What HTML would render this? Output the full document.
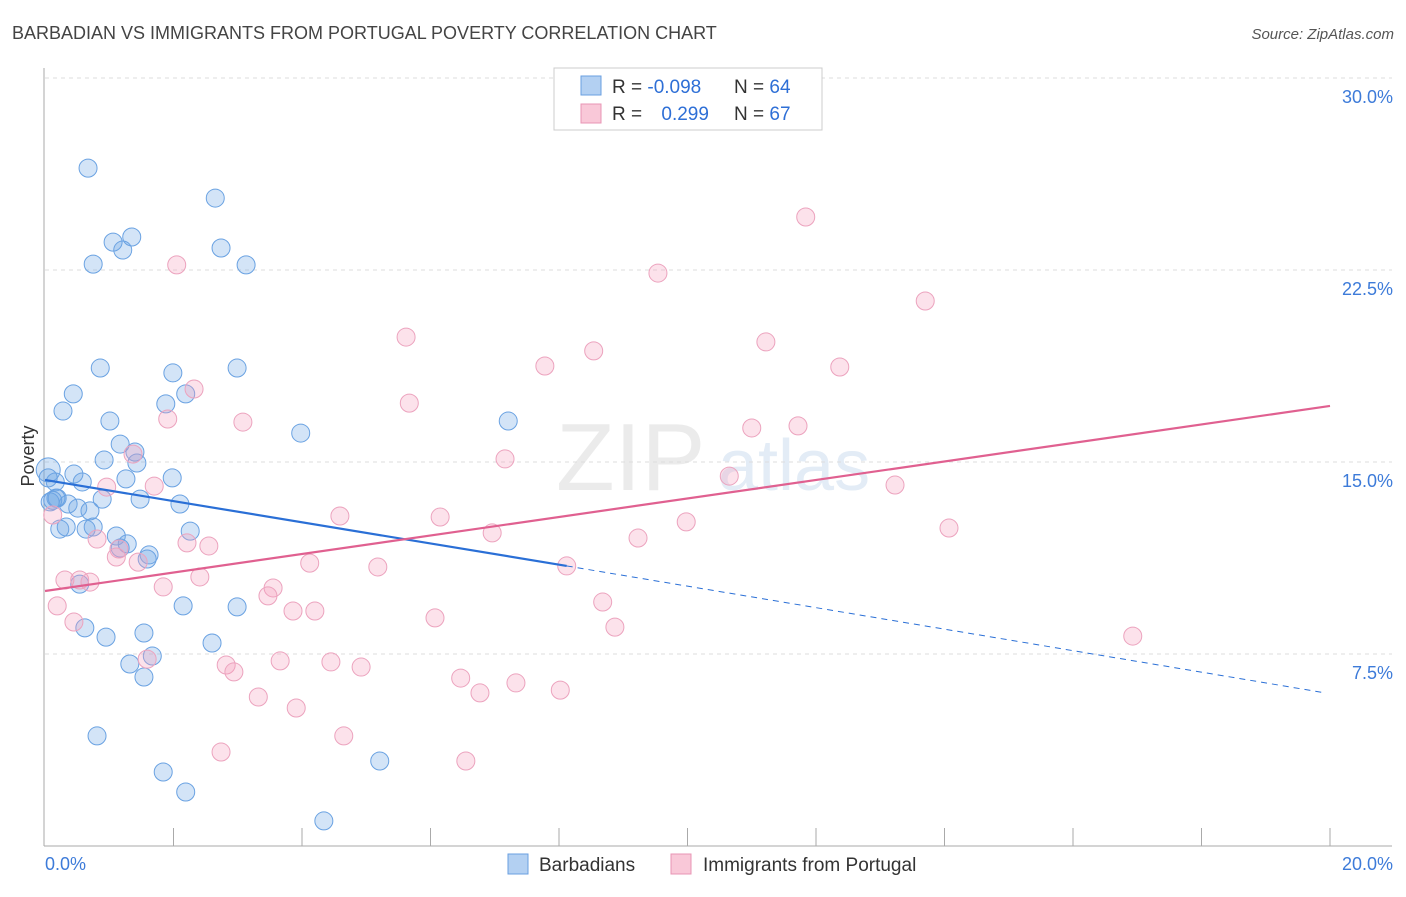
<!DOCTYPE html>
<html><head><meta charset="utf-8"><style>
body{margin:0;background:#fff;font-family:"Liberation Sans",sans-serif;}
svg text{font-family:"Liberation Sans",sans-serif;}
</style></head><body>
<svg id="chart" width="1406" height="892">
<text x="12" y="39" font-size="18" fill="#444">BARBADIAN VS IMMIGRANTS FROM PORTUGAL POVERTY CORRELATION CHART</text>
<text x="1394" y="39" font-size="15" fill="#555" text-anchor="end" font-style="italic">Source: ZipAtlas.com</text>
<text x="556" y="490" font-size="96" fill="#ebebeb" font-family="Liberation Serif">ZIP</text>
<text x="718" y="490" font-size="72" fill="#e3ecf6">atlas</text>
<g id="grid"></g>
<g id="axes"></g>
<g id="pts"></g>
<g id="lines"></g>
<text x="34" y="456" font-size="18" fill="#333" text-anchor="middle" transform="rotate(-90 34 456)">Poverty</text>
<g>
<rect x="554" y="68" width="268" height="62" fill="#fff" stroke="#ccc"/>
<rect x="581" y="76" width="20" height="19" fill="#b3d0f2" stroke="#6a9fe0"/>
<rect x="581" y="104" width="20" height="19" fill="#f9c8d8" stroke="#e895b4"/>
<text x="612" y="93" font-size="19" fill="#333">R = <tspan fill="#2e6fd6">-0.098</tspan></text>
<text x="734" y="93" font-size="19" fill="#333">N = <tspan fill="#2e6fd6">64</tspan></text>
<text x="612" y="120" font-size="19" fill="#333">R = <tspan fill="#2e6fd6" dx="14">0.299</tspan></text>
<text x="734" y="120" font-size="19" fill="#333">N = <tspan fill="#2e6fd6">67</tspan></text>
</g>
<g>
<rect x="508" y="854" width="20" height="20" fill="#b3d0f2" stroke="#6a9fe0"/>
<text x="539" y="871" font-size="19" fill="#333">Barbadians</text>
<rect x="671" y="854" width="20" height="20" fill="#f9c8d8" stroke="#e895b4"/>
<text x="703" y="871" font-size="19" fill="#333">Immigrants from Portugal</text>
</g>
</svg>
<script>
const yTicks=[7.5,15,22.5,30];
const yTickLabels=["7.5%","15.0%","22.5%","30.0%"];
const xTickVals=[0,2,4,6,8,10,12,14,16,18,20];
const blueX=[0.67,2.65,1.06,1.35,1.21,0.75,2.74,3.13,0.86,1.99,2.99,0.44,2.19,1.88,0.28,1.01,7.21,3.98,1.17,1.40,0.92,1.43,0.45,1.98,1.26,0.05,0.16,0.58,0.89,1.48,2.10,0.19,0.36,0.51,0.70,0.23,0.33,0.75,0.64,2.26,1.11,1.28,1.17,1.62,1.59,0.54,2.15,2.99,0.62,0.95,1.54,2.60,1.67,1.32,1.54,0.81,1.84,2.19,4.34,5.21,0.05,0.08,0.17,0.12];
const blueY=[26.48,25.31,23.59,23.79,23.28,22.73,23.36,22.70,18.67,18.48,18.67,17.66,17.66,17.27,16.99,16.60,16.60,16.13,15.70,15.39,15.08,14.96,14.53,14.38,14.34,14.69,14.22,14.22,13.55,13.55,13.36,13.59,13.36,13.20,13.09,12.38,12.46,12.46,12.38,12.30,12.11,11.80,11.64,11.37,11.21,10.23,9.38,9.34,8.52,8.16,8.32,7.93,7.42,7.11,6.60,4.30,2.89,2.11,0.98,3.32,14.38,13.44,13.59,13.5];
const pinkX=[11.84,2.05,9.54,13.70,5.62,7.78,8.54,11.22,12.37,2.32,5.67,1.91,3.08,11.00,11.72,7.16,1.37,10.65,13.23,1.70,0.96,4.59,6.15,9.98,14.07,6.96,9.23,0.81,2.21,2.55,1.15,1.11,1.45,4.12,5.18,8.12,0.31,0.54,0.70,1.84,2.41,3.55,3.47,3.86,4.20,8.68,6.07,0.19,0.45,8.87,16.93,1.59,2.82,2.94,3.66,4.45,4.92,6.47,7.33,8.02,6.77,3.32,3.91,4.65,2.74,6.55,0.12];
const pinkY=[24.57,22.70,22.38,21.29,19.88,18.75,19.34,19.69,18.71,17.85,17.30,16.68,16.56,16.33,16.41,15.12,15.31,14.45,14.10,14.06,14.02,12.89,12.85,12.66,12.42,12.23,12.03,11.99,11.84,11.72,11.60,11.29,11.09,11.05,10.90,10.94,10.39,10.39,10.31,10.12,10.51,10.08,9.77,9.18,9.18,9.53,8.91,9.38,8.75,8.55,8.20,7.30,7.07,6.80,7.23,7.19,6.99,6.56,6.37,6.09,5.98,5.82,5.39,4.30,3.67,3.32,12.93];
const blueTrend=[14.3,10.94,5.98]; const blueTrendX=[0,8.12,19.93];
const pinkTrend=[9.96,17.19]; const pinkTrendX=[0,20];
const X=v=>45+v*64.25, Y=v=>846-v*25.6;
const NS="http://www.w3.org/2000/svg";
function mk(tag,attrs,parent){const e=document.createElementNS(NS,tag);for(const k in attrs)e.setAttribute(k,attrs[k]);document.getElementById(parent).appendChild(e);return e;}
yTicks.forEach((t,i)=>{
 const g=mk('line',{x1:45,x2:1392,y1:Y(t),y2:Y(t),stroke:'#ddd','stroke-dasharray':'4,4'},'grid');
 
 
 const l=mk('text',{x:1393,y:Y(t)+25,'font-size':18,fill:'#3d7bd9','text-anchor':'end'},'grid');
 l.textContent=yTickLabels[i];
 
 
});
let a=mk('line',{x1:44,x2:44,y1:68,y2:846,stroke:'#aaa'},'axes');


a=mk('line',{x1:44,x2:1392,y1:846,y2:846,stroke:'#aaa'},'axes');


xTickVals.forEach(v=>{if(v===0)return;const t=mk('line',{x1:X(v),x2:X(v),y1:828,y2:846,stroke:'#aaa'},'axes');
 
 });
let t=mk('text',{x:45,y:870,'font-size':18,fill:'#3d7bd9'},'axes');t.textContent='0.0%';


t=mk('text',{x:1393,y:870,'font-size':18,fill:'#3d7bd9','text-anchor':'end'},'axes');t.textContent='20.0%';


blueX.forEach((x,i)=>{const c=mk('circle',{cx:X(x),cy:Y(blueY[i]),r:(i===25?12:9),fill:'rgba(110,165,230,0.3)',stroke:'#6aa2e2','stroke-width':1},'pts');
 
 });
pinkX.forEach((x,i)=>{const c=mk('circle',{cx:X(x),cy:Y(pinkY[i]),r:9,fill:'rgba(245,160,190,0.3)',stroke:'#eca3be','stroke-width':1},'pts');
 
 });
let ln=mk('line',{x1:X(blueTrendX[0]),y1:Y(blueTrend[0]),x2:X(blueTrendX[1]),y2:Y(blueTrend[1]),stroke:'#2a6fd6','stroke-width':2.2},'lines');


ln=mk('line',{x1:X(blueTrendX[1]),y1:Y(blueTrend[1]),x2:X(blueTrendX[2]),y2:Y(blueTrend[2]),stroke:'#2a6fd6','stroke-width':1,'stroke-dasharray':'6,5'},'lines');


ln=mk('line',{x1:X(pinkTrendX[0]),y1:Y(pinkTrend[0]),x2:X(pinkTrendX[1]),y2:Y(pinkTrend[1]),stroke:'#e06090','stroke-width':2.2},'lines');


</script>
</body></html>
